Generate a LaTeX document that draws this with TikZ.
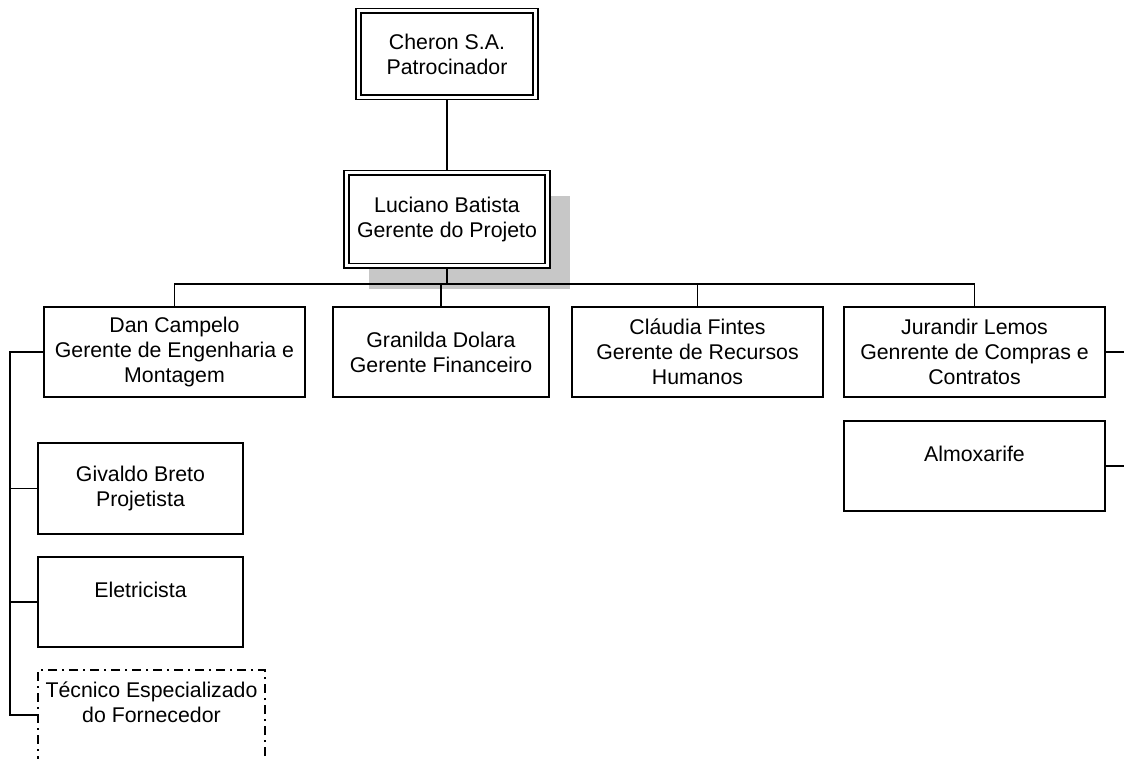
\documentclass[tikz,border=0pt]{standalone}
\usepackage{fontspec}
\setmainfont{Liberation Sans}
\usepackage{tikz}
\usetikzlibrary{positioning,shadows}

\begin{document}
\begin{tikzpicture}[x=1pt,y=-1pt,line width=1.8pt,
font=\fontsize{21.3}{25}\selectfont]
\tikzstyle{cargo}=[draw=black,fill=white,align=center,inner sep=0pt,outer sep=0pt,
minimum height=90pt]
\tikzstyle{chefe}=[cargo,double,double distance=3pt,line width=1.6pt]
\tikzstyle{terceiro}=[cargo,line width=1.1pt,dash pattern=on 9pt off 5pt on 2pt off 5pt]
\useasboundingbox (0,0) rectangle (1124,758);

\node[chefe,minimum width=177pt,minimum height=86.5pt] (cheron) at (447,54)
  {Cheron S.A.\\Patrocinador};
\node[chefe,minimum width=201pt,minimum height=93pt,
  drop shadow={shadow xshift=22.5pt,shadow yshift=-23pt,fill=black!22,opacity=1}]
  (luciano) [below=75.5pt of cheron] {Luciano Batista\\Gerente do Projeto};

\node[cargo,minimum width=261pt] (dan) at (174.5,352)
  {Dan Campelo\\Gerente de Engenharia e\\Montagem};
\node[cargo,minimum width=216pt] (granilda) [right=28pt of dan]
  {Granilda Dolara\\Gerente Financeiro};
\node[cargo,minimum width=251pt] (claudia) [right=23pt of granilda]
  {Cláudia Fintes\\Gerente de Recursos\\Humanos};
\node[cargo,minimum width=261pt] (jurandir) [right=21pt of claudia]
  {Jurandir Lemos\\Genrente de Compras e\\Contratos};

\node[cargo,minimum width=205pt,minimum height=91pt] (givaldo)
  [below right=46pt and -6pt of dan.south west] {Givaldo Breto\\Projetista};
\node[cargo,minimum width=205pt] (eletricista) [below=23pt of givaldo]
  {Eletricista\\\mbox{}};
\node[terceiro,minimum width=227pt] (tecnico)
  [below right=23pt and 0pt of eletricista.south west]
  {Técnico Especializado\\do Fornecedor\\\mbox{}};
\node[cargo,minimum width=261pt] (almoxarife) [below=24pt of jurandir]
  {Almoxarife\\\mbox{}};

\coordinate (margem) at (1130,0);

\draw[shorten <=2.4pt,shorten >=2.4pt] (cheron.south) -- (luciano.north);
\draw[shorten <=2.4pt] (luciano.south) -- ++(0,18) coordinate (barra);
\draw (barra) -| (dan.north);
\draw (barra) -| (granilda.north);
\draw (barra) -| (claudia.north);
\draw (barra) -| (jurandir.north);

\draw (dan.west) -- ++(-34,0) coordinate (tronco) |- (tecnico.west);
\draw (tronco) |- (givaldo.west);
\draw (tronco) |- (eletricista.west);

\draw (jurandir.east) -- (jurandir.east -| margem);
\draw (almoxarife.east) -- (almoxarife.east -| margem);

\end{tikzpicture}
\end{document}
